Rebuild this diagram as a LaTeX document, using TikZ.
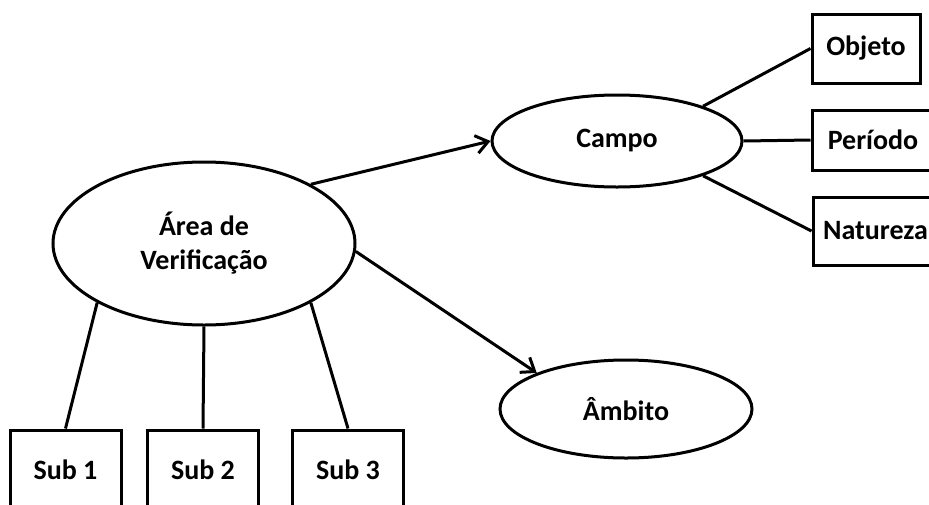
\documentclass[tikz,border=0pt]{standalone}
\usepackage{fontspec}
\setmainfont{Carlito}
\usetikzlibrary{shapes.geometric,arrows.meta}

\tikzset{
  every node/.style={font=\fontsize{28}{34}\selectfont\bfseries, align=center, inner sep=0pt},
  oval/.style={draw, ellipse, line width=3pt},
  box/.style={draw, rectangle, line width=3pt},
  link/.style={line width=3pt},
  arrowlink/.style={line width=3pt, -{Straight Barb[length=12pt,width=18pt,line width=3pt]}}
}

\begin{document}
\begin{tikzpicture}[x=1pt,y=-1pt]
  \useasboundingbox (0,0) rectangle (929,504);
  \clip (0,0) rectangle (929,504);

  % central concept and its two branches
  \node[oval, minimum width=302pt, minimum height=163pt] (area) at (204,243.5) {Área de\\Verificação};
  \node[oval, minimum width=250pt, minimum height=92pt] (campo) at (617,141) {Campo};
  \node[oval, minimum width=252pt, minimum height=98pt] (ambito) at (626,409) {Âmbito};

  % attributes of the field
  \node[box, minimum width=108pt, minimum height=69pt] (objeto) at (866,48.5) {Objeto};
  \node[box, minimum width=122pt, minimum height=60pt] (periodo) at (873,140) {Período};
  \node[box, minimum width=125pt, minimum height=68pt] (natureza) at (875.5,231) {Natureza};

  % sub-areas
  \node[box, minimum width=111pt, minimum height=80pt] (sub1) at (65.5,470) {Sub 1};
  \node[box, minimum width=111pt, minimum height=80pt] (sub2) at (203,470) {Sub 2};
  \node[box, minimum width=111pt, minimum height=80pt] (sub3) at (348,470) {Sub 3};

  % arrows
  \draw[arrowlink] (area.29) -- (campo.west);
  \draw[arrowlink] (area.-3) -- (ambito.158);

  % plain links
  \draw[link] (campo.22) -- (objeto.west);
  \draw[link] (campo.east) -- (periodo.west);
  \draw[link] (campo.-22) -- (natureza.west);

  \draw[link] (area.-151) -- (sub1.north);
  \draw[link] (area.south) -- (sub2.north);
  \draw[link] (area.-29) -- (sub3.north);
\end{tikzpicture}
\end{document}
